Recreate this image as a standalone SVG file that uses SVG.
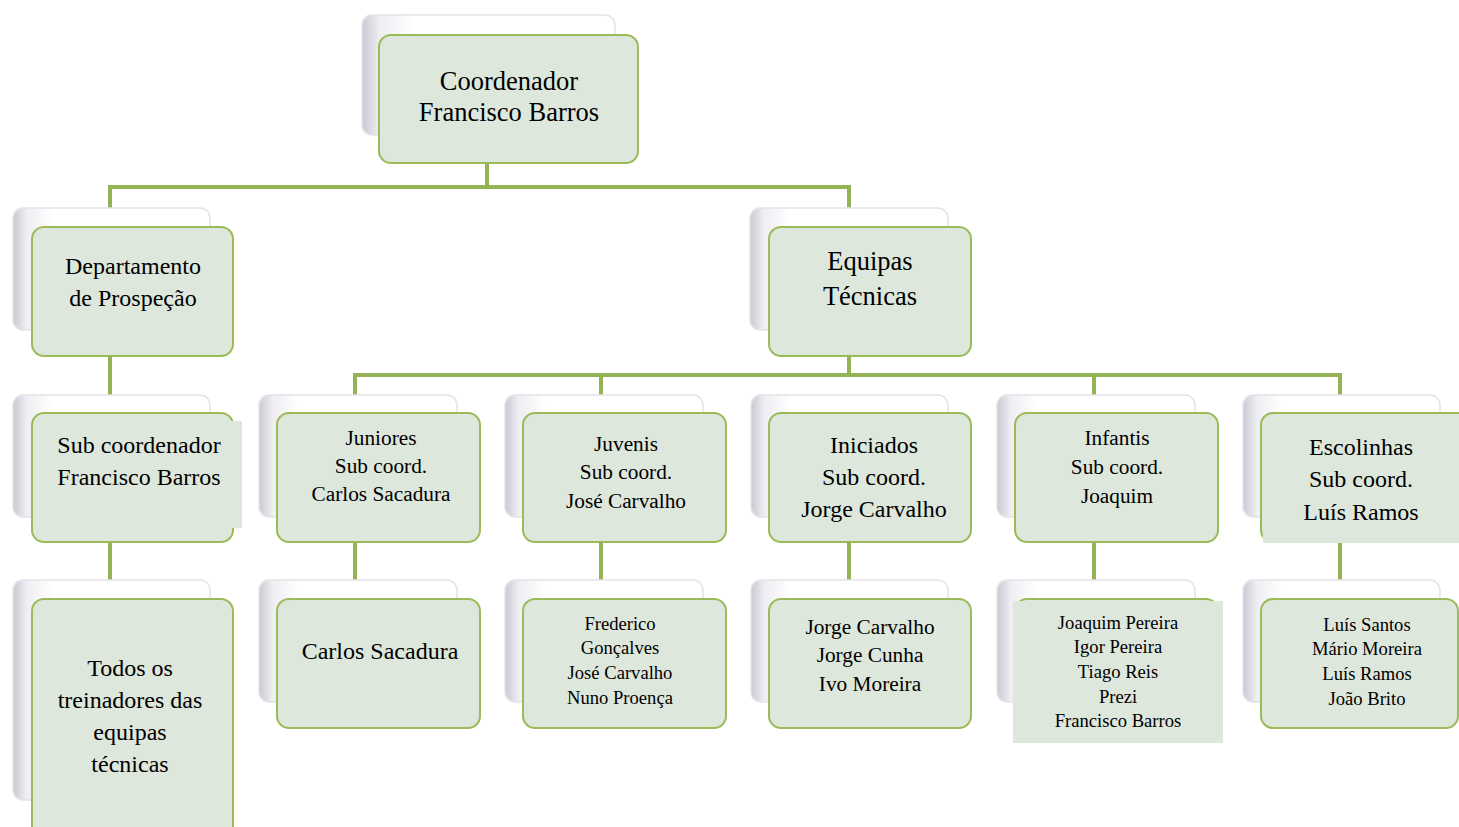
<svg xmlns="http://www.w3.org/2000/svg" width="1459" height="827" viewBox="0 0 1459 827">
<defs>
<linearGradient id="sh" x1="0" y1="0" x2="1" y2="0">
<stop offset="0" stop-color="#c9c9d3"/>
<stop offset="0.07" stop-color="#eeeef3"/>
<stop offset="0.2" stop-color="#ffffff"/>
<stop offset="1" stop-color="#ffffff"/>
</linearGradient>
</defs>
<style>
.sh{fill:url(#sh);stroke:#e4e4e8;stroke-width:1.5}
.bx{fill:#dee7dc;stroke:#9bbb59;stroke-width:2}
.fl{fill:#dee7dc}
.cn{fill:none;stroke:#93b454;stroke-width:4}
text{font-family:"Liberation Serif","Times New Roman",serif;fill:#000;text-anchor:middle}
.s26{font-size:26.5px}.s24{font-size:24px}.s21{font-size:21.3px}.s18{font-size:18.6px}
</style>
<rect width="1459" height="827" fill="#ffffff"/>
<g id="connectors">
<path class="cn" d="M487 163V187M110 187H849M110 185V227M849 185V227"/>
<path class="cn" d="M110 356V413M110 542V599"/>
<path class="cn" d="M849 356V375M355 375H1340M355 373V413M601 373V413M1094 373V413M1340 373V413"/>
<path class="cn" d="M355 542V599M601 542V599M849 542V599M1094 542V599M1340 542V599"/>
</g>
<g id="coordenador">
<rect class="sh" x="362" y="15" width="253" height="120" rx="10"/>
<rect class="bx" x="379" y="35" width="259" height="128" rx="12"/>
<text class="s26" x="509" y="90">Coordenador</text>
<text class="s26" x="509" y="121">Francisco Barros</text>
</g>
<g id="departamento">
<rect class="sh" x="13" y="208" width="197" height="122" rx="10"/>
<rect class="bx" x="32" y="227" width="201" height="129" rx="12"/>
<text class="s24" x="133" y="274">Departamento</text>
<text class="s24" x="133" y="306">de Prospeção</text>
</g>
<g id="equipas">
<rect class="sh" x="750" y="208" width="198" height="122" rx="10"/>
<rect class="bx" x="769" y="227" width="202" height="129" rx="12"/>
<text class="s26" x="870" y="270">Equipas</text>
<text class="s26" x="870" y="305">Técnicas</text>
</g>
<g id="subcoordenador">
<rect class="sh" x="13" y="395" width="197" height="122" rx="10"/>
<rect class="bx" x="32" y="413" width="201" height="129" rx="12"/>
<rect class="fl" x="40" y="421" width="202" height="107"/>
<text class="s24" x="139" y="453">Sub coordenador</text>
<text class="s24" x="139" y="485">Francisco Barros</text>
</g>
<g id="todos">
<rect class="sh" x="13" y="580" width="197" height="220" rx="10"/>
<rect class="bx" x="32" y="599" width="201" height="240" rx="12"/>
<text class="s24" x="130" y="676">Todos os</text>
<text class="s24" x="130" y="708">treinadores das</text>
<text class="s24" x="130" y="740">equipas</text>
<text class="s24" x="130" y="772">técnicas</text>
</g>
<g id="juniores">
<rect class="sh" x="259" y="395" width="198" height="122" rx="10"/>
<rect class="bx" x="277" y="413" width="203" height="129" rx="12"/>
<text class="s21" x="381" y="445">Juniores</text>
<text class="s21" x="381" y="473">Sub coord.</text>
<text class="s21" x="381" y="501">Carlos Sacadura</text>
</g>
<g id="juvenis">
<rect class="sh" x="505" y="395" width="198" height="122" rx="10"/>
<rect class="bx" x="523" y="413" width="203" height="129" rx="12"/>
<text class="s21" x="626" y="451">Juvenis</text>
<text class="s21" x="626" y="479">Sub coord.</text>
<text class="s21" x="626" y="508">José Carvalho</text>
</g>
<g id="iniciados">
<rect class="sh" x="751" y="395" width="197" height="122" rx="10"/>
<rect class="bx" x="769" y="413" width="202" height="129" rx="12"/>
<text class="s24" x="874" y="453">Iniciados</text>
<text class="s24" x="874" y="485">Sub coord.</text>
<text class="s24" x="874" y="517">Jorge Carvalho</text>
</g>
<g id="infantis">
<rect class="sh" x="997" y="395" width="198" height="122" rx="10"/>
<rect class="bx" x="1015" y="413" width="203" height="129" rx="12"/>
<text class="s21" x="1117" y="445">Infantis</text>
<text class="s21" x="1117" y="474">Sub coord.</text>
<text class="s21" x="1117" y="503">Joaquim</text>
</g>
<g id="escolinhas">
<rect class="sh" x="1243" y="395" width="197" height="122" rx="10"/>
<rect class="bx" x="1261" y="413" width="215" height="129" rx="12"/>
<rect class="fl" x="1263" y="430" width="196" height="113"/>
<text class="s24" x="1361" y="455">Escolinhas</text>
<text class="s24" x="1361" y="487">Sub coord.</text>
<text class="s24" x="1361" y="520">Luís Ramos</text>
</g>
<g id="carlos">
<rect class="sh" x="259" y="580" width="198" height="122" rx="10"/>
<rect class="bx" x="277" y="599" width="203" height="129" rx="12"/>
<text class="s24" x="380" y="659">Carlos Sacadura</text>
</g>
<g id="frederico">
<rect class="sh" x="505" y="580" width="198" height="122" rx="10"/>
<rect class="bx" x="523" y="599" width="203" height="129" rx="12"/>
<text class="s18" x="620" y="630">Frederico</text>
<text class="s18" x="620" y="654">Gonçalves</text>
<text class="s18" x="620" y="679">José Carvalho</text>
<text class="s18" x="620" y="704">Nuno Proença</text>
</g>
<g id="jorge">
<rect class="sh" x="751" y="580" width="197" height="122" rx="10"/>
<rect class="bx" x="769" y="599" width="202" height="129" rx="12"/>
<text class="s21" x="870" y="634">Jorge Carvalho</text>
<text class="s21" x="870" y="662">Jorge Cunha</text>
<text class="s21" x="870" y="691">Ivo Moreira</text>
</g>
<g id="joaquim">
<rect class="sh" x="997" y="580" width="198" height="122" rx="10"/>
<rect class="bx" x="1015" y="599" width="203" height="129" rx="12"/>
<rect class="fl" x="1013" y="601" width="210" height="142"/>
<text class="s18" x="1118" y="629">Joaquim Pereira</text>
<text class="s18" x="1118" y="653">Igor Pereira</text>
<text class="s18" x="1118" y="678">Tiago Reis</text>
<text class="s18" x="1118" y="703">Prezi</text>
<text class="s18" x="1118" y="727">Francisco Barros</text>
</g>
<g id="luis">
<rect class="sh" x="1243" y="580" width="197" height="122" rx="10"/>
<rect class="bx" x="1261" y="599" width="197" height="129" rx="12"/>
<text class="s18" x="1367" y="631">Luís Santos</text>
<text class="s18" x="1367" y="655">Mário Moreira</text>
<text class="s18" x="1367" y="680">Luís Ramos</text>
<text class="s18" x="1367" y="705">João Brito</text>
</g>
</svg>
